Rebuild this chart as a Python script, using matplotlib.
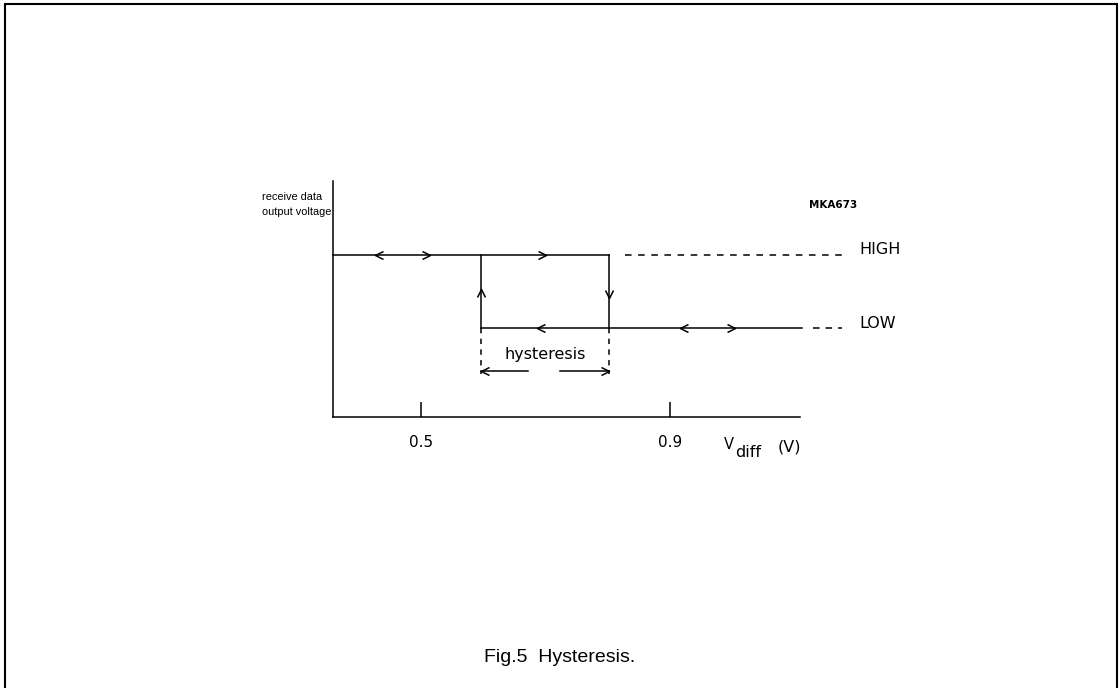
import matplotlib
matplotlib.use("Agg")
import matplotlib.pyplot as plt
from matplotlib.path import Path
from matplotlib.markers import MarkerStyle
from matplotlib.patches import Rectangle

# ---------------- data (volts / logic level) ----------------
x_ticks = [0.5, 0.9]
tick_labels = ["0.5", "0.9"]
axis_v = [0.359, 1.109]          # extent of drawn V axis
level_high = 1.0
level_low = 0.0
v_rise = 0.597                   # LOW -> HIGH threshold
v_fall = 0.803                   # HIGH -> LOW threshold
high_solid = [0.359, 0.803]
high_dashed = [0.828, 1.176]
low_solid = [0.597, 1.112]
low_dashed = [1.130, 1.176]
# direction arrows on the levels (tip positions)
high_arrows_left = [0.426]
high_arrows_right = [0.5145, 0.7008]
low_arrows_left = [0.6863, 0.916]
low_arrows_right = [1.0044]
rise_arrow_tip = 0.534
fall_arrow_tip = 0.411
hyst_level = -0.589
hyst_dash_end = -0.63
hyst_left_tail = 0.672
hyst_right_tail = 0.7233

W, H, DPI = 1119, 688, 100
fig = plt.figure(figsize=(W / DPI, H / DPI), dpi=DPI)

# axes placed to match the reference layout
ax_l, ax_r, ax_b, ax_t = 333, 800, 417, 181
ax = fig.add_axes([ax_l / W, 1 - ax_b / H, (ax_r - ax_l) / W, (ax_b - ax_t) / H])
ax.set_xlim(axis_v)
ax.set_ylim(-1.219, 2.014)
for s in ["top", "right"]:
    ax.spines[s].set_visible(False)
for s in ["left", "bottom"]:
    ax.spines[s].set_linewidth(1.1)
ax.set_yticks([])
ax.set_xticks(x_ticks)
ax.set_xticklabels(tick_labels)
ax.tick_params(axis="x", direction="in", length=10.8, width=1.1, pad=13,
               labelsize=11)
ax.patch.set_visible(False)

lw = 1.1
col = "black"
kw = dict(color=col, lw=lw, clip_on=False)
# HIGH level
ax.plot(high_solid, [level_high] * 2, **kw)
ax.plot(high_dashed, [level_high] * 2, ls=(0, (4.3, 4.3)), **kw)
# LOW level
ax.plot(low_solid, [level_low] * 2, **kw)
ax.plot(low_dashed, [level_low] * 2, ls=(0, (4.3, 3.9)), **kw)
# transitions
ax.plot([v_rise, v_rise], [level_low, level_high], **kw)
ax.plot([v_fall, v_fall], [level_low, level_high], **kw)
# dashed hysteresis markers
ax.plot([v_rise, v_rise], [level_low, hyst_dash_end], ls=(0, (3.5, 3.5)), **kw)
ax.plot([v_fall, v_fall], [level_low, hyst_dash_end], ls=(0, (3.5, 3.5)), **kw)
# hysteresis arrow shafts
ax.plot([hyst_left_tail, v_rise], [hyst_level] * 2, **kw)
ax.plot([hyst_right_tail, v_fall], [hyst_level] * 2, **kw)

# chevron markers
def chevron(angle):
    p = Path([(-2, 1), (0, 0), (-2, -1)], [Path.MOVETO, Path.LINETO, Path.LINETO])
    m = MarkerStyle(p, fillstyle="none")
    return m.rotated(deg=angle)

mk = dict(ls="none", ms=11.5, mew=lw, mec=col, mfc="none", clip_on=False)
ax.plot(high_arrows_right, [level_high] * len(high_arrows_right), marker=chevron(0), **mk)
ax.plot(high_arrows_left, [level_high] * len(high_arrows_left), marker=chevron(180), **mk)
ax.plot(low_arrows_right, [level_low] * len(low_arrows_right), marker=chevron(0), **mk)
ax.plot(low_arrows_left, [level_low] * len(low_arrows_left), marker=chevron(180), **mk)
ax.plot([v_rise], [rise_arrow_tip], marker=chevron(90), **mk)
ax.plot([v_fall], [fall_arrow_tip], marker=chevron(-90), **mk)
ax.plot([v_rise], [hyst_level], marker=chevron(180), **mk)
ax.plot([v_fall], [hyst_level], marker=chevron(0), **mk)

# helper for text placement in pixel layout
def fx(px):
    return px / W
def fy(py):
    return 1 - py / H

ylab_kw = dict(family="Liberation Sans", fontsize=7.9)

fs = 11.5
fig.text(fx(262), fy(197), "receive data", ha="left", va="center", **ylab_kw)
fig.text(fx(262), fy(212), "output voltage", ha="left", va="center", **ylab_kw)
fig.text(fx(545), fy(355), "hysteresis", ha="center", va="center", fontsize=fs)
fig.text(fx(859), fy(250), "HIGH", ha="left", va="center", fontsize=fs)
fig.text(fx(859), fy(324), "LOW", ha="left", va="center", fontsize=fs)
fig.text(fx(833), fy(205), "MKA673", ha="center", va="center", fontsize=7.5,
         fontweight="bold")
# V_diff (V) label
fig.text(fx(724), fy(449), "V", ha="left", va="baseline", fontsize=10.5)
fig.text(fx(735), fy(457), "diff", ha="left", va="baseline", fontsize=11.5)
fig.text(fx(778), fy(451), "(V)", ha="left", va="baseline", fontsize=11.5)
fig.text(fx(560), fy(662), "Fig.5  Hysteresis.", ha="center", va="baseline",
         fontsize=14, family="Liberation Sans")

# page frame
fig.patches.append(Rectangle((4.5 / W, -0.01), (1117 - 4.5) / W, fy(3.5) + 0.01,
                             transform=fig.transFigure, fill=False, lw=1.5,
                             edgecolor="black"))

fig.savefig("out.png", dpi=DPI)
